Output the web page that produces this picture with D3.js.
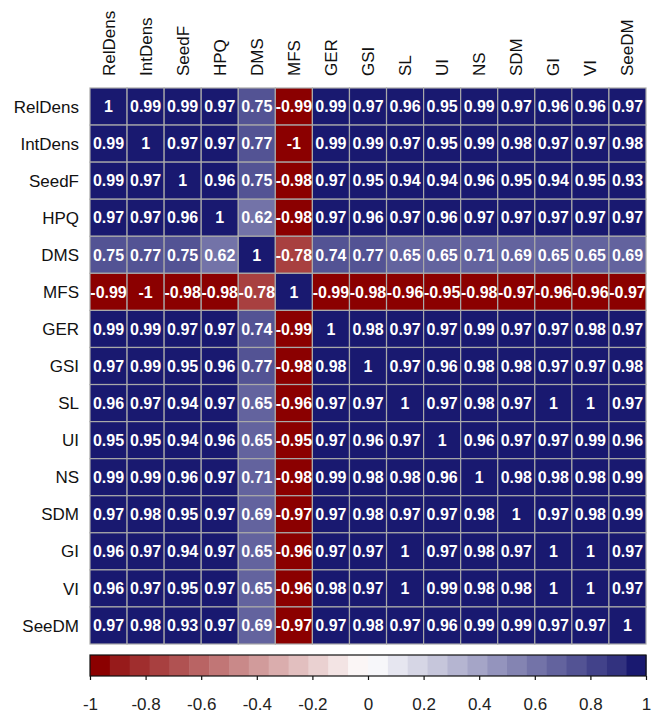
<!DOCTYPE html>
<html>
<head>
<meta charset="utf-8">
<script src="https://cdn.jsdelivr.net/npm/d3@7"></script>
<style>
  body { margin: 0; background: #fff; }
  text { font-family: Arial, "Liberation Sans", sans-serif; }
</style>
</head>
<body>
<div id="chart"></div>
<script>
// variable names (same order for rows and columns)
var vars = ['RelDens', 'IntDens', 'SeedF', 'HPQ', 'DMS', 'MFS', 'GER', 'GSI',
  'SL', 'UI', 'NS', 'SDM', 'GI', 'VI', 'SeeDM'];

// correlation rows
var relDens = [1, 0.99, 0.99, 0.97, 0.75, -0.99, 0.99, 0.97, 0.96, 0.95, 0.99, 0.97, 0.96, 0.96, 0.97];
var intDens = [0.99, 1, 0.97, 0.97, 0.77, -1, 0.99, 0.99, 0.97, 0.95, 0.99, 0.98, 0.97, 0.97, 0.98];
var seedF = [0.99, 0.97, 1, 0.96, 0.75, -0.98, 0.97, 0.95, 0.94, 0.94, 0.96, 0.95, 0.94, 0.95, 0.93];
var hpq = [0.97, 0.97, 0.96, 1, 0.62, -0.98, 0.97, 0.96, 0.97, 0.96, 0.97, 0.97, 0.97, 0.97, 0.97];
var dms = [0.75, 0.77, 0.75, 0.62, 1, -0.78, 0.74, 0.77, 0.65, 0.65, 0.71, 0.69, 0.65, 0.65, 0.69];
var mfs = [-0.99, -1, -0.98, -0.98, -0.78, 1, -0.99, -0.98, -0.96, -0.95, -0.98, -0.97, -0.96, -0.96, -0.97];
var ger = [0.99, 0.99, 0.97, 0.97, 0.74, -0.99, 1, 0.98, 0.97, 0.97, 0.99, 0.97, 0.97, 0.98, 0.97];
var gsi = [0.97, 0.99, 0.95, 0.96, 0.77, -0.98, 0.98, 1, 0.97, 0.96, 0.98, 0.98, 0.97, 0.97, 0.98];
var sl = [0.96, 0.97, 0.94, 0.97, 0.65, -0.96, 0.97, 0.97, 1, 0.97, 0.98, 0.97, 1, 1, 0.97];
var ui = [0.95, 0.95, 0.94, 0.96, 0.65, -0.95, 0.97, 0.96, 0.97, 1, 0.96, 0.97, 0.97, 0.99, 0.96];
var ns = [0.99, 0.99, 0.96, 0.97, 0.71, -0.98, 0.99, 0.98, 0.98, 0.96, 1, 0.98, 0.98, 0.98, 0.99];
var sdm = [0.97, 0.98, 0.95, 0.97, 0.69, -0.97, 0.97, 0.98, 0.97, 0.97, 0.98, 1, 0.97, 0.98, 0.99];
var gi = [0.96, 0.97, 0.94, 0.97, 0.65, -0.96, 0.97, 0.97, 1, 0.97, 0.98, 0.97, 1, 1, 0.97];
var vi = [0.96, 0.97, 0.95, 0.97, 0.65, -0.96, 0.98, 0.97, 1, 0.99, 0.98, 0.98, 1, 1, 0.97];
var seeDM = [0.97, 0.98, 0.93, 0.97, 0.69, -0.97, 0.97, 0.98, 0.97, 0.96, 0.99, 0.99, 0.97, 0.97, 1];

var rows = [relDens, intDens, seedF, hpq, dms, mfs, ger, gsi, sl, ui, ns, sdm, gi, vi, seeDM];

// colour legend ticks
var legendTicks = [-1, -0.8, -0.6, -0.4, -0.2, 0, 0.2, 0.4, 0.6, 0.8, 1];
var nColors = 28;

var svgWidth = 657;
var svgHeight = 714;

var margin = { top: 88, right: 11, bottom: 70, left: 90 };
var size = 556;

var svg = d3
  .select('#chart')
  .append('svg')
  .attr('width', svgWidth)
  .attr('height', svgHeight);

// flatten into cells
var cells = [];
rows.forEach(function (r, i) {
  r.forEach(function (v, j) {
    cells.push({ row: vars[i], col: vars[j], value: v });
  });
});

var x = d3.scaleBand().domain(vars).range([margin.left, margin.left + size]);
var y = d3.scaleBand().domain(vars).range([margin.top, margin.top + size]);

// darkred -> white -> midnightblue, split into discrete steps like corrplot
var ramp = d3
  .scaleLinear()
  .domain([-1, 0, 1])
  .range(['#8b0000', '#ffffff', '#191970'])
  .interpolate(d3.interpolateRgb);

var palette = d3.range(nColors).map(function (i) {
  return ramp(-1 + (2 * (i + 0.5)) / nColors);
});
palette[0] = ramp(-1);
palette[nColors - 1] = ramp(1);

var color = d3.scaleQuantize().domain([-1, 1]).range(palette);

var chartGroup = svg.append('g');

// cells
chartGroup
  .selectAll('rect.cell')
  .data(cells)
  .enter()
  .append('rect')
  .attr('class', 'cell')
  .attr('x', (d) => x(d.col))
  .attr('y', (d) => y(d.row))
  .attr('width', x.bandwidth())
  .attr('height', y.bandwidth())
  .attr('fill', (d) => color(d.value))
  .attr('stroke', '#a9a9a9')
  .attr('stroke-width', 1.2);

// numbers in cells
chartGroup
  .selectAll('text.val')
  .data(cells)
  .enter()
  .append('text')
  .attr('class', 'val')
  .attr('x', (d) => x(d.col) + x.bandwidth() / 2)
  .attr('y', (d) => y(d.row) + y.bandwidth() / 2)
  .attr('dy', '0.36em')
  .attr('text-anchor', 'middle')
  .attr('fill', '#fff')
  .style('font-size', '16px')
  .style('font-weight', 'bold')
  .text((d) => d.value);

// row labels
chartGroup
  .selectAll('text.rowlab')
  .data(vars)
  .enter()
  .append('text')
  .attr('class', 'rowlab')
  .attr('x', margin.left - 11)
  .attr('y', (d) => y(d) + y.bandwidth() / 2)
  .attr('dy', '0.36em')
  .attr('text-anchor', 'end')
  .attr('fill', '#111')
  .style('font-size', '17px')
  .text((d) => d);

// column labels (rotated)
chartGroup
  .selectAll('text.collab')
  .data(vars)
  .enter()
  .append('text')
  .attr('class', 'collab')
  .attr('transform', (d) => `translate(${x(d) + x.bandwidth() / 2 + 6}, ${margin.top - 12}) rotate(-90)`)
  .attr('text-anchor', 'start')
  .attr('fill', '#111')
  .style('font-size', '17px')
  .text((d) => d);

// colour legend
var legendTop = 655;
var legendHeight = 21;
var lx = d3.scaleLinear().domain([-1, 1]).range([margin.left, margin.left + size]);
var step = 2 / nColors;

var legend = svg.append('g');

legend
  .selectAll('rect')
  .data(palette)
  .enter()
  .append('rect')
  .attr('x', (d, i) => lx(-1 + i * step))
  .attr('y', legendTop)
  .attr('width', lx(-1 + step) - lx(-1) + 0.5)
  .attr('height', legendHeight)
  .attr('fill', (d) => d);

legend
  .append('rect')
  .attr('x', lx(-1))
  .attr('y', legendTop)
  .attr('width', lx(1) - lx(-1))
  .attr('height', legendHeight)
  .attr('fill', 'none')
  .attr('stroke', '#111')
  .attr('stroke-width', 1.2);

var legendAxis = d3
  .axisBottom(lx)
  .tickValues(legendTicks)
  .tickSize(4)
  .tickPadding(18)
  .tickFormat((d) => String(d));

legend
  .append('g')
  .attr('transform', `translate(0, ${legendTop + legendHeight})`)
  .call(legendAxis)
  .call((g) => g.select('.domain').remove())
  .call((g) => g.selectAll('line').attr('stroke', '#111').attr('stroke-width', 1.2))
  .call((g) =>
    g
      .selectAll('text')
      .attr('fill', '#222')
      .style('font-size', '17px')
      .style('font-family', 'Arial, "Liberation Sans", sans-serif')
  );
</script>
</body>
</html>
